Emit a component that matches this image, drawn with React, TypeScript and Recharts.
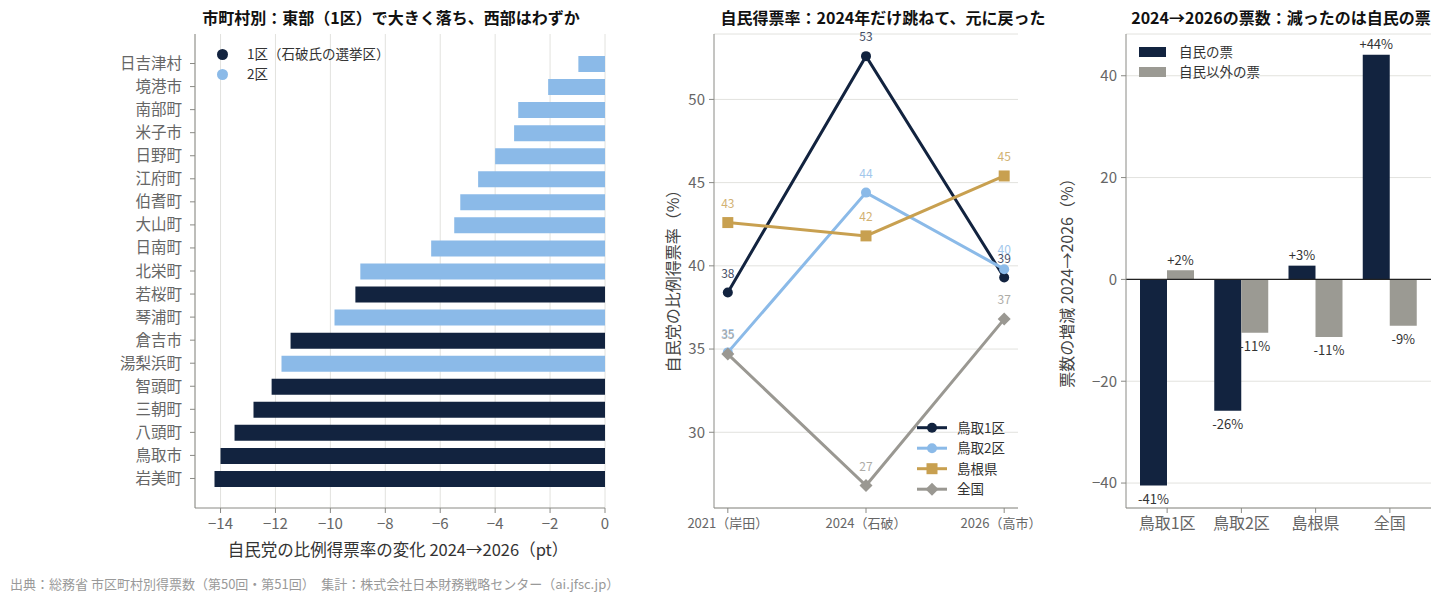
import React from 'react';
import {
  BarChart,
  LineChart,
  Bar,
  Line,
  Cell,
  XAxis,
  YAxis,
  CartesianGrid,
  ReferenceLine,
  LabelList,
} from 'recharts';

// 左：市町村別の変化（上から順）
const municipalities = [
  '日吉津村', '境港市', '南部町', '米子市', '日野町', '江府町', '伯耆町', '大山町', '日南町', '北栄町',
  '若桜町', '琴浦町', '倉吉市', '湯梨浜町', '智頭町', '三朝町', '八頭町', '鳥取市', '岩美町',
];
const rateChanges = [
  -0.97, -2.07, -3.16, -3.31, -4.0, -4.62, -5.27, -5.49, -6.33, -8.91,
  -9.09, -9.85, -11.45, -11.78, -12.14, -12.8, -13.49, -14.0, -14.22,
];
const districts = [2, 2, 2, 2, 2, 2, 2, 2, 2, 2, 1, 2, 1, 2, 1, 1, 1, 1, 1];
const changeTicks = [-14, -12, -10, -8, -6, -4, -2, 0];

// 中：得票率の推移
const yearLabels = ['2021（岸田）', '2024（石破）', '2026（高市）'];
const tottori1 = [38.4, 52.6, 39.3];
const tottori2 = [34.8, 44.4, 39.8];
const shimane = [42.6, 41.8, 45.4];
const national = [34.7, 26.8, 36.8];
const rateTicks = [30, 35, 40, 45, 50];

// 右：票数の増減
const regions = ['鳥取1区', '鳥取2区', '島根県', '全国'];
const ldpVotes = [-40.5, -25.8, 2.7, 44.1];
const otherVotes = [1.8, -10.5, -11.3, -9.1];
const voteTicks = [-40, -20, 0, 20, 40];

const NAVY = '#12233f';
const LIGHT = '#8bbae8';
const GOLD = '#c8a050';
const GREY = '#9a9892';
const GRID = '#e2e2de';
const AXIS = '#8a8a85';
const FONT = '"Noto Sans CJK JP", "Noto Sans", sans-serif';

const minus = (v: number) => String(v).replace('-', '−');
const roundSym = (v: number) => Math.sign(v) * Math.round(Math.abs(v));

const changeData = municipalities.map((name, i) => ({ name, value: rateChanges[i], district: districts[i] }));
const rateData = yearLabels.map((label, i) => ({
  x: i, label, t1: tottori1[i], t2: tottori2[i], sh: shimane[i], nat: national[i],
}));
const voteData = regions.map((name, i) => ({ name, ldp: ldpVotes[i], other: otherVotes[i] }));

const tickStyle = { fill: '#666', fontSize: 15, fontFamily: FONT };

const squareDot = (color: string) => (p: any) => (
  <rect key={`s${p.index}`} x={p.cx - 5.5} y={p.cy - 5.5} width={11} height={11} fill={color} />
);
const diamondDot = (color: string) => (p: any) => (
  <polygon key={`d${p.index}`} points={`${p.cx},${p.cy - 6.5} ${p.cx + 6.5},${p.cy} ${p.cx},${p.cy + 6.5} ${p.cx - 6.5},${p.cy}`} fill={color} />
);
const pointLabel = (color: string) => (p: any) => (
  <text x={p.x} y={p.y - 18} textAnchor="middle" dominantBaseline="middle" fontSize={12} fill={color} opacity={0.8} fontFamily={FONT}>
    {Math.round(p.value)}
  </text>
);
const barLabel = (p: any) => {
  const top = Math.min(p.y, p.y + p.height);
  const bottom = Math.max(p.y, p.y + p.height);
  const v = roundSym(p.value);
  const cy = p.value >= 0 ? top - 9 : bottom + 15;
  return (
    <text x={p.x + p.width / 2} y={cy} textAnchor="middle" dominantBaseline="middle" fontSize={13} fill="#333" fontFamily={FONT}>
      {v >= 0 ? `+${v}%` : `${v}%`}
    </text>
  );
};

const Title = ({ cx, text }: { cx: number; text: string }) => (
  <div style={{ position: 'absolute', left: cx, top: 17, transform: 'translate(-50%, -50%)', whiteSpace: 'nowrap', fontWeight: 700, fontSize: 16, lineHeight: 1, color: '#111' }}>
    {text}
  </div>
);
const VLabel = ({ cx, cy, text }: { cx: number; cy: number; text: string }) => (
  <div style={{ position: 'absolute', left: cx, top: cy, transform: 'translate(-50%, -50%) rotate(-90deg)', whiteSpace: 'nowrap', fontSize: 16, lineHeight: 1, color: '#444' }}>
    {text}
  </div>
);

const lineLegend = [
  { name: '鳥取1区', color: NAVY, shape: 'circle' },
  { name: '鳥取2区', color: LIGHT, shape: 'circle' },
  { name: '島根県', color: GOLD, shape: 'square' },
  { name: '全国', color: GREY, shape: 'diamond' },
];

export default function App() {
  return (
    <div style={{ position: 'fixed', left: 0, top: 0, width: 1448, height: 601, background: '#fff', fontFamily: FONT, overflow: 'hidden' }}>
      {/* 左：市町村別 */}
      <Title cx={391} text="市町村別：東部（1区）で大きく落ち、西部はわずか" />
      <div style={{ position: 'absolute', left: 100, top: 0 }}>
        <BarChart width={520} height={560} data={changeData} layout="vertical" margin={{ top: 34, right: 15, bottom: 22, left: 0 }}>
          <CartesianGrid horizontal={false} stroke={GRID} />
          <XAxis
            type="number"
            domain={[-14.93, 0]}
            ticks={changeTicks}
            tickFormatter={minus}
            height={30}
            tick={tickStyle}
            tickSize={5}
            tickMargin={5}
            axisLine={{ stroke: AXIS }}
            tickLine={{ stroke: AXIS }}
          />
          <YAxis
            type="category"
            dataKey="name"
            width={95}
            padding={{ top: 18, bottom: 18 }}
            tick={{ ...tickStyle, fontSize: 15.5 }}
            tickSize={5}
            tickMargin={8}
            axisLine={{ stroke: AXIS }}
            tickLine={{ stroke: AXIS }}
            interval={0}
          />
          <Bar dataKey="value" barSize={16} isAnimationActive={false}>
            {changeData.map((d, i) => (
              <Cell key={i} fill={d.district === 1 ? NAVY : LIGHT} />
            ))}
          </Bar>
        </BarChart>
      </div>
      <div style={{ position: 'absolute', left: 398, top: 549, transform: 'translate(-50%, -50%)', whiteSpace: 'nowrap', fontSize: 16.5, lineHeight: 1, color: '#333' }}>
        自民党の比例得票率の変化 2024→2026（pt）
      </div>
      {[{ t: '1区（石破氏の選挙区）', c: NAVY, y: 54 }, { t: '2区', c: LIGHT, y: 74 }].map((l) => (
        <React.Fragment key={l.t}>
          <div style={{ position: 'absolute', left: 216.5, top: l.y - 5.5, width: 11, height: 11, borderRadius: '50%', background: l.c }} />
          <div style={{ position: 'absolute', left: 247, top: l.y, transform: 'translateY(-50%)', fontSize: 13.5, lineHeight: 1, color: '#333', whiteSpace: 'nowrap' }}>{l.t}</div>
        </React.Fragment>
      ))}

      {/* 中：得票率推移 */}
      <Title cx={883} text="自民得票率：2024年だけ跳ねて、元に戻った" />
      <VLabel cx={672} cy={277} text="自民党の比例得票率（%）" />
      <div style={{ position: 'absolute', left: 660, top: 0 }}>
        <LineChart width={380} height={560} data={rateData} margin={{ top: 34, right: 22, bottom: 22, left: 0 }}>
          <CartesianGrid vertical={false} stroke={GRID} />
          <XAxis
            type="number"
            dataKey="x"
            domain={[-0.1, 2.1]}
            ticks={[0, 1, 2]}
            tickFormatter={(v: number) => yearLabels[v]}
            height={30}
            tick={{ ...tickStyle, fontSize: 13 }}
            tickSize={5}
            tickMargin={6}
            axisLine={{ stroke: AXIS }}
            tickLine={{ stroke: AXIS }}
          />
          <YAxis
            type="number"
            domain={[25.45, 53.93]}
            ticks={rateTicks}
            width={54}
            tick={tickStyle}
            tickSize={5}
            tickMargin={4}
            axisLine={{ stroke: AXIS }}
            tickLine={{ stroke: AXIS }}
          />
          <Line dataKey="t1" stroke={NAVY} strokeWidth={3} dot={{ r: 5, fill: NAVY, stroke: NAVY, strokeWidth: 0 }} isAnimationActive={false}>
            <LabelList dataKey="t1" content={pointLabel(NAVY)} />
          </Line>
          <Line dataKey="t2" stroke={LIGHT} strokeWidth={3} dot={{ r: 5, fill: LIGHT, stroke: LIGHT, strokeWidth: 0 }} isAnimationActive={false}>
            <LabelList dataKey="t2" content={pointLabel(LIGHT)} />
          </Line>
          <Line dataKey="sh" stroke={GOLD} strokeWidth={3} dot={squareDot(GOLD)} isAnimationActive={false}>
            <LabelList dataKey="sh" content={pointLabel(GOLD)} />
          </Line>
          <Line dataKey="nat" stroke={GREY} strokeWidth={3} dot={diamondDot(GREY)} isAnimationActive={false}>
            <LabelList dataKey="nat" content={pointLabel(GREY)} />
          </Line>
        </LineChart>
      </div>
      <svg style={{ position: 'absolute', left: 910, top: 415 }} width={40} height={85}>
        {lineLegend.map((l, i) => {
          const y = 12.7 + i * 20.5;
          return (
            <g key={l.name}>
              <line x1={7} x2={37} y1={y} y2={y} stroke={l.color} strokeWidth={3} />
              {l.shape === 'circle' && <circle cx={22} cy={y} r={5} fill={l.color} />}
              {l.shape === 'square' && <rect x={16.5} y={y - 5.5} width={11} height={11} fill={l.color} />}
              {l.shape === 'diamond' && <polygon points={`22,${y - 6.5} 28.5,${y} 22,${y + 6.5} 15.5,${y}`} fill={l.color} />}
            </g>
          );
        })}
      </svg>
      {lineLegend.map((l, i) => (
        <div key={l.name} style={{ position: 'absolute', left: 957, top: 427.7 + i * 20.5, transform: 'translateY(-50%)', fontSize: 13.5, lineHeight: 1, color: '#333', whiteSpace: 'nowrap' }}>
          {l.name}
        </div>
      ))}

      {/* 右：票数の増減 */}
      <Title cx={1281} text="2024→2026の票数：減ったのは自民の票" />
      <VLabel cx={1066} cy={279} text="票数の増減 2024→2026（%）" />
      <div style={{ position: 'absolute', left: 1050, top: 0 }}>
        <BarChart width={398} height={560} data={voteData} barGap={0} barCategoryGap={0} margin={{ top: 34, right: 17, bottom: 22, left: 0 }}>
          <CartesianGrid vertical={false} stroke={GRID} />
          <XAxis
            type="category"
            dataKey="name"
            padding={{ left: 4, right: 4 }}
            height={30}
            tick={{ ...tickStyle, fontSize: 16 }}
            tickSize={5}
            tickMargin={5}
            axisLine={{ stroke: AXIS }}
            tickLine={{ stroke: AXIS }}
            interval={0}
          />
          <YAxis
            type="number"
            domain={[-44.9, 48.2]}
            ticks={voteTicks}
            tickFormatter={minus}
            width={76}
            tick={tickStyle}
            tickSize={5}
            tickMargin={4}
            axisLine={{ stroke: AXIS }}
            tickLine={{ stroke: AXIS }}
          />
          <ReferenceLine y={0} stroke="#222" strokeWidth={1.3} />
          <Bar dataKey="ldp" fill={NAVY} barSize={27} isAnimationActive={false}>
            <LabelList dataKey="ldp" content={barLabel} />
          </Bar>
          <Bar dataKey="other" fill="#9b9a93" barSize={27} isAnimationActive={false}>
            <LabelList dataKey="other" content={barLabel} />
          </Bar>
        </BarChart>
      </div>
      {[{ t: '自民の票', c: NAVY, y: 52 }, { t: '自民以外の票', c: '#9b9a93', y: 72 }].map((l) => (
        <React.Fragment key={l.t}>
          <div style={{ position: 'absolute', left: 1139, top: l.y - 5, width: 27, height: 10, background: l.c }} />
          <div style={{ position: 'absolute', left: 1179, top: l.y, transform: 'translateY(-50%)', fontSize: 13.5, lineHeight: 1, color: '#333', whiteSpace: 'nowrap' }}>{l.t}</div>
        </React.Fragment>
      ))}

      <div style={{ position: 'absolute', left: 10, top: 583, transform: 'translateY(-50%)', fontSize: 13, lineHeight: 1, color: '#999', whiteSpace: 'nowrap' }}>
        出典：総務省 市区町村別得票数（第50回・第51回）　集計：株式会社日本財務戦略センター（ai.jfsc.jp）
      </div>
    </div>
  );
}
